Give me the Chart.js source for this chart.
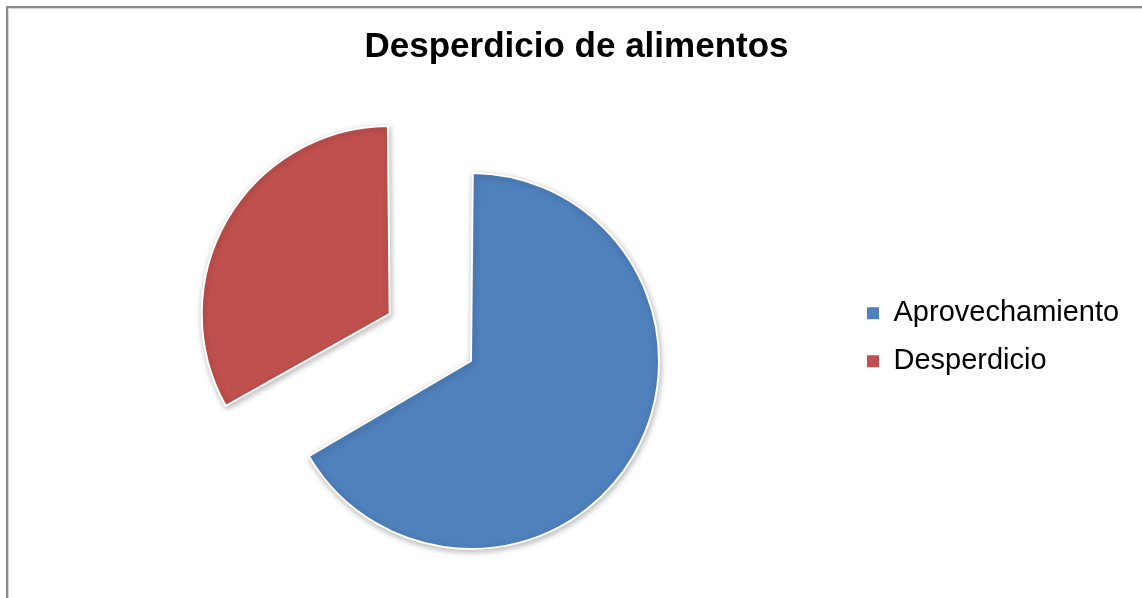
<!DOCTYPE html>
<html lang="es">
<head>
<meta charset="utf-8">
<title>Desperdicio de alimentos</title>
<script src="https://cdn.jsdelivr.net/npm/chart.js@4/dist/chart.umd.min.js"></script>
<style>
  html, body { margin: 0; padding: 0; background: #fff; overflow: hidden; }
  #wrap { position: relative; width: 1142px; height: 598px; }
  /* thin grey frame, top and left edges only */
  #frame {
    position: absolute; left: 6px; top: 6px; right: 0; bottom: 0;
    border-top: 2px solid #8c8c8c; border-left: 2px solid #8c8c8c;
    box-shadow: inset 1px 1px 0 #d6d6d6;
  }
  #foodChart { position: absolute; left: 0; top: 0; }
</style>
</head>
<body>
<div id="wrap">
  <div id="frame"></div>
  <canvas id="foodChart" width="1142" height="598"></canvas>
</div>
<script>
// Data
const categories = ['Aprovechamiento', 'Desperdicio'];
const shares = [66.7, 33.3];
const sliceColors = ['#4F81BD', '#C0504D'];
// Chart.js shifts an arc by offset / 4 and also grows its radius a little;
// splitting the offset between both slices keeps the two radii equal
// while the waste slice ends up ~94px away from the other one.
const sliceOffsets = [44.4, 331.6];

// soft drop shadow under the slices
const sliceShadow = {
    id: 'sliceShadow',
    beforeDatasetsDraw(chart) {
        const ctx = chart.ctx;
        ctx.save();
        ctx.shadowColor = 'rgba(0, 0, 0, 0.28)';
        ctx.shadowBlur = 6;
        ctx.shadowOffsetX = 1;
        ctx.shadowOffsetY = 2;
    },
    afterDatasetsDraw(chart) {
        chart.ctx.restore();
    }
};

// the legend reserves a narrow column, but its labels may run on to the canvas edge
const legendOverflow = {
    id: 'legendOverflow',
    afterLayout(chart) {
        if (chart.legend) {
            chart.legend.right = chart.width;
            chart.legend.width = chart.legend.right - chart.legend.left;
        }
    }
};

const ctx = document.getElementById('foodChart');

new Chart(ctx, {
    type: 'pie',
    data: {
        labels: categories,
        datasets: [{
            data: shares,
            backgroundColor: sliceColors,
            borderColor: '#ffffff',
            borderWidth: 2,
            offset: sliceOffsets,
            hoverOffset: 0
        }]
    },
    options: {
        responsive: false,
        animation: false,
        radius: 176.9,
        layout: {
            padding: { left: 74.8, right: 63.8, top: 10, bottom: -66.5 }
        },
        plugins: {
            title: {
                display: true,
                text: 'Desperdicio de alimentos',
                color: '#000',
                font: { family: 'Arial, "Liberation Sans", sans-serif', size: 35, weight: 'bold', lineHeight: 0.9 },
                padding: { top: 22, bottom: 49.3 }
            },
            legend: {
                position: 'right',
                maxWidth: 230.2,
                labels: {
                    boxWidth: 12,
                    boxHeight: 12,
                    padding: 19,
                    color: '#000',
                    font: { family: 'Arial, "Liberation Sans", sans-serif', size: 29 },
                    generateLabels(chart) {
                        const items = Chart.overrides.pie.plugins.legend.labels.generateLabels(chart);
                        return items.map(item => ({ ...item, lineWidth: 0 }));
                    }
                }
            },
            tooltip: { enabled: false }
        }
    },
    plugins: [sliceShadow, legendOverflow]
});
</script>
</body>
</html>
